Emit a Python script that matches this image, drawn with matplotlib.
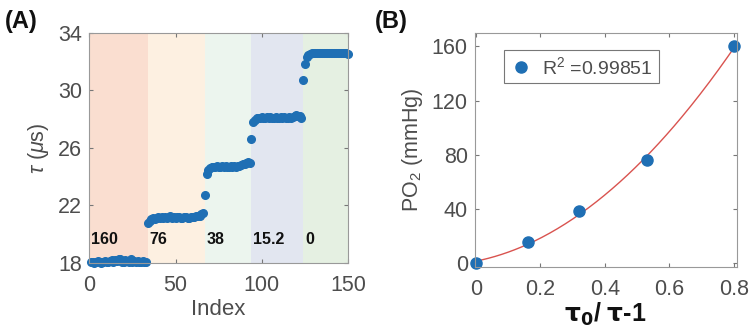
import numpy as np
import matplotlib
matplotlib.use("Agg")
import matplotlib.pyplot as plt

plt.rcParams['font.family'] = ['Liberation Sans', 'DejaVu Sans']
plt.rcParams['mathtext.fontset'] = 'custom'
plt.rcParams['mathtext.rm'] = 'Liberation Sans'
plt.rcParams['mathtext.it'] = 'Liberation Sans:italic'

# ---- panel A data: lifetime per index, grouped by PO2 level ----
levels = ['160', '76', '38', '15.2', '0']
band_edges = [0, 34, 67, 94, 124, 150]
band_colors = ['#FADED0', '#FDF0E1', '#ECF5EE', '#E2E6F0', '#E5F0E2']

tau_160 = [18.05, 18.10, 18.02, 18.08, 18.12, 18.06, 18.00, 18.10, 18.15, 18.05,
           18.08, 18.12, 18.18, 18.10, 18.20, 18.15, 18.25, 18.30, 18.10, 18.05,
           18.20, 18.15, 18.10, 18.25, 18.05, 18.12, 18.08, 18.15, 18.10, 18.05,
           18.12, 18.08, 18.06]
tau_76 = [20.80, 20.95, 21.05, 21.10, 21.08, 21.15, 21.20, 21.12, 21.18, 21.15,
          21.22, 21.10, 21.18, 21.25, 21.15, 21.20, 21.12, 21.18, 21.22, 21.15,
          21.10, 21.20, 21.18, 21.12, 21.15, 21.22, 21.18, 21.20, 21.25, 21.28,
          21.30, 21.40, 21.45]
tau_38 = [22.75, 24.20, 24.45, 24.60, 24.65, 24.70, 24.68, 24.72, 24.65, 24.70,
          24.75, 24.68, 24.72, 24.70, 24.65, 24.72, 24.70, 24.75, 24.68, 24.72,
          24.75, 24.80, 24.85, 24.90, 24.95, 25.00, 24.98]
tau_15 = [26.65, 27.80, 27.95, 28.05, 28.10, 28.08, 28.12, 28.10, 28.05, 28.12,
          28.10, 28.15, 28.08, 28.10, 28.12, 28.05, 28.10, 28.15, 28.08, 28.12,
          28.10, 28.05, 28.12, 28.10, 28.15, 28.20, 28.30, 28.25, 28.20, 28.10]
tau_0 = [30.70, 31.80, 32.30, 32.45, 32.55, 32.60, 32.62, 32.58, 32.60, 32.62,
         32.60, 32.58, 32.62, 32.60, 32.58, 32.60, 32.62, 32.60, 32.58, 32.60,
         32.62, 32.60, 32.58, 32.60, 32.58, 32.60, 32.55]
tau = np.concatenate([tau_160, tau_76, tau_38, tau_15, tau_0])
index = np.arange(1, len(tau) + 1)

# ---- panel B data: Stern-Volmer calibration ----
sv_x = [0.0, 0.162, 0.320, 0.532, 0.800]
po2 = [0.0, 15.2, 38.0, 76.0, 160.0]
r2_label = r'R$^2$ =0.99851'

blue = '#1F6FB4'
gray = '#4D4D4D'

fig = plt.figure(figsize=(7.5, 3.35), dpi=100)

def style(ax):
    ax.tick_params(direction='in', top=True, right=True, length=3,
                   colors='#777777', labelcolor=gray, labelsize=15.5)
    ax.tick_params(axis='x', pad=9)
    ax.tick_params(axis='y', pad=5)
    for s in ax.spines.values():
        s.set_color('#999999')
        s.set_linewidth(0.8)

# panel A
axA = fig.add_axes([0.119, 0.215, 0.345, 0.687])
for i in range(len(levels)):
    axA.axvspan(band_edges[i], band_edges[i + 1], color=band_colors[i], lw=0, zorder=0)
    axA.text(band_edges[i] + 1, 19.6, levels[i], fontsize=11.5, fontweight='bold',
             ha='left', va='center', color='#111111', zorder=3)
axA.plot(index, tau, 'o', color=blue, ms=5.5, mec=blue, zorder=2, clip_on=False)
axA.set_xlim(0, 150)
axA.set_ylim(18, 34)
axA.set_xticks([0, 50, 100, 150])
axA.set_yticks([18, 22, 26, 30, 34])
axA.set_xlabel('Index', fontsize=16, color=gray, labelpad=2)
axA.set_ylabel(r'$\tau$ ($\mu$s)', fontsize=15.5, color=gray, labelpad=5)
style(axA)
fig.text(0.006, 0.915, '(A)', fontsize=17, fontweight='bold', color='#111111')

# panel B
axB = fig.add_axes([0.633, 0.203, 0.349, 0.699])
coef = np.polyfit(sv_x, po2, 2)
xf = np.linspace(0, max(sv_x), 200)
axB.plot(xf, np.polyval(coef, xf), color='#D9534F', lw=1.0, zorder=1)
axB.plot(sv_x, po2, 'o', color=blue, ms=8, mec=blue, zorder=2, clip_on=False,
         label=r2_label)
axB.set_xlim(-0.003, 0.808)
axB.set_ylim(-3, 170)
axB.set_xticks([0, 0.2, 0.4, 0.6, 0.8])
axB.set_xticklabels(['0', '0.2', '0.4', '0.6', '0.8'])
axB.set_yticks([0, 40, 80, 120, 160])
axB.set_ylabel(r'PO$_2$ (mmHg)', fontsize=15.5, color=gray, labelpad=5)
axB.set_xlabel(r'$\mathbf{\tau_0}$/ $\mathbf{\tau}$-1', fontsize=18,
               fontweight='bold', color='#111111', labelpad=0)
style(axB)
leg = axB.legend(loc='upper left', bbox_to_anchor=(0.11, 0.927), fontsize=14,
                 frameon=True, fancybox=False, edgecolor='#555555',
                 handletextpad=0.5, borderpad=0.3, handlelength=1.2,
                 borderaxespad=0, labelcolor=gray)
leg.get_frame().set_linewidth(0.8)
fig.text(0.5, 0.915, '(B)', fontsize=17, fontweight='bold', color='#111111')

fig.savefig('out.png', dpi=100)
